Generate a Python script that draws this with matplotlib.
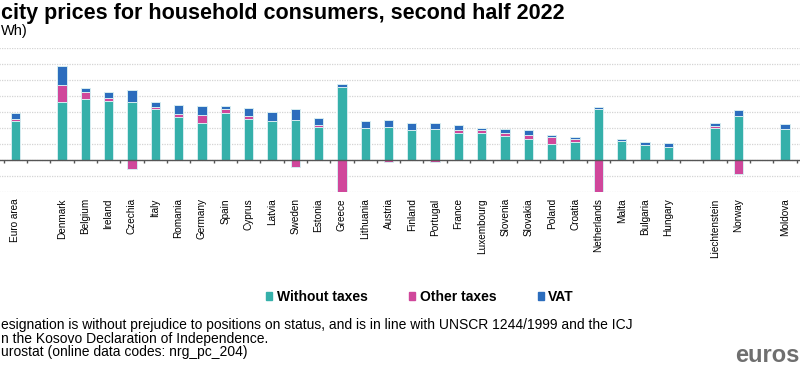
import numpy as np
import matplotlib.pyplot as plt
from matplotlib.patches import Patch

plt.rcParams['font.family'] = ['Liberation Sans', 'DejaVu Sans']

# EUR per kWh, second half 2022 (None = empty slot)
countries = ['Euro area', '', 'Denmark', 'Belgium', 'Ireland', 'Czechia', 'Italy',
             'Romania', 'Germany', 'Spain', 'Cyprus', 'Latvia', 'Sweden', 'Estonia',
             'Greece', 'Lithuania', 'Austria', 'Finland', 'Portugal', 'France',
             'Luxembourg', 'Slovenia', 'Slovakia', 'Poland', 'Croatia', 'Netherlands',
             'Malta', 'Bulgaria', 'Hungary', '', 'Liechtenstein', 'Norway', '', 'Moldova']
without_taxes = [0.246, None, 0.365, 0.379, 0.371, 0.360, 0.317, 0.267, 0.231, 0.296,
                 0.254, 0.246, 0.250, 0.204, 0.456, 0.200, 0.206, 0.185, 0.194, 0.171,
                 0.169, 0.152, 0.129, 0.098, 0.115, 0.319, 0.121, 0.094, 0.083, None,
                 0.198, 0.275, None, 0.194]
other_taxes = [0.010, None, 0.106, 0.046, 0.017, -0.056, 0.016, 0.021, 0.050, 0.021,
               0.023, 0.0, -0.046, 0.015, -0.20, 0.0, -0.0125, 0.0, -0.010, 0.017,
               0.019, 0.015, 0.027, 0.048, 0.014, -0.198, 0.0, 0.0, 0.0, None,
               0.015, -0.0875, None, 0.0]
vat = [0.036, None, 0.119, 0.025, 0.035, 0.080, 0.032, 0.054, 0.054, 0.018,
       0.050, 0.054, 0.067, 0.046, 0.017, 0.044, 0.042, 0.044, 0.039, 0.033,
       0.014, 0.029, 0.031, 0.012, 0.017, 0.010, 0.008, 0.016, 0.023, None,
       0.016, 0.040, None, 0.029]

C_TEAL = '#35b0aa'
C_PINK = '#d0479b'
C_BLUE = '#2c6dbd'

w = np.array(without_taxes, dtype=float)
o = np.array(other_taxes, dtype=float)
v = np.array(vat, dtype=float)
x = np.arange(len(countries))

fig = plt.figure(figsize=(8, 3.68), dpi=100)
W, H = 800, 368
# axes runs past the left/right edges, the reference is a crop of a wider chart
ax = fig.add_axes([-8 / W, (H - 192) / H, 828 / W, 144 / H])

edge = dict(edgecolor='#d6ecf0', linewidth=0.7)
ax.bar(x, w, width=0.4, color=C_TEAL, zorder=3, **edge)
o_pos = np.where(o > 0, o, 0)
o_neg = np.where(o < 0, o, 0)
ax.bar(x, o_pos, bottom=w, width=0.4, color=C_PINK, zorder=3, **edge)
ax.bar(x, o_neg, width=0.4, color=C_PINK, zorder=3, **edge)
ax.bar(x, v, bottom=w + o_pos, width=0.4, color=C_BLUE, zorder=3, **edge)

ax.set_xlim(-1.0, 34.5)
ax.set_ylim(-0.2, 0.7)
ax.set_yticks(np.arange(-0.2, 0.71, 0.1))
ax.yaxis.grid(True, color='#d4d4d4', linestyle=(0, (1, 1)), linewidth=0.9, zorder=0)
ax.tick_params(axis='y', length=0, labelleft=False)
for s in ax.spines.values():
    s.set_visible(False)

ax.axhline(0, color='#555555', linewidth=1.0, zorder=4)
bounds = np.arange(-0.5, len(countries) + 0.5, 1)
ax.vlines(bounds, -0.019, 0, color='#555555', linewidth=1.0, zorder=4)

ax.set_xticks(x)
ax.set_xticklabels(countries, rotation=90, fontsize=7.2, va='top')
ax.tick_params(axis='x', length=0, pad=4.5)

# visible parts of the titles (reference is cropped on the left)
fig.text(1 / W, 1 - 19 / H, 'city prices for household consumers, second half 2022',
         ha='left', va='baseline', fontsize=15.5, fontweight='bold')
fig.text(1 / W, 1 - 23.5 / H, 'Wh)', ha='left', va='top', fontsize=10.5)

handles = [Patch(color=C_TEAL), Patch(color=C_PINK), Patch(color=C_BLUE)]
fig.legend(handles, ['Without taxes', 'Other taxes', 'VAT'], ncol=3, frameon=False,
           loc='center', bbox_to_anchor=(420 / W, 1 - 297 / H),
           prop={'weight': 'bold', 'size': 10}, handlelength=0.45, handleheight=0.45,
           handletextpad=0.3, columnspacing=3.0)

notes = ['esignation is without prejudice to positions on status, and is in line with UNSCR 1244/1999 and the ICJ',
         'n the Kosovo Declaration of Independence.',
         'urostat (online data codes: nrg_pc_204)']
for i, line in enumerate(notes):
    fig.text(1 / W, 1 - (325 + 13.5 * i) / H, line, ha='left', va='center', fontsize=10)

fig.text(735 / W, 1 - 356 / H, 'euros', ha='left', va='center', fontsize=17,
         fontweight='bold', color='#6f6f6f')

fig.savefig('out.png', dpi=100)
